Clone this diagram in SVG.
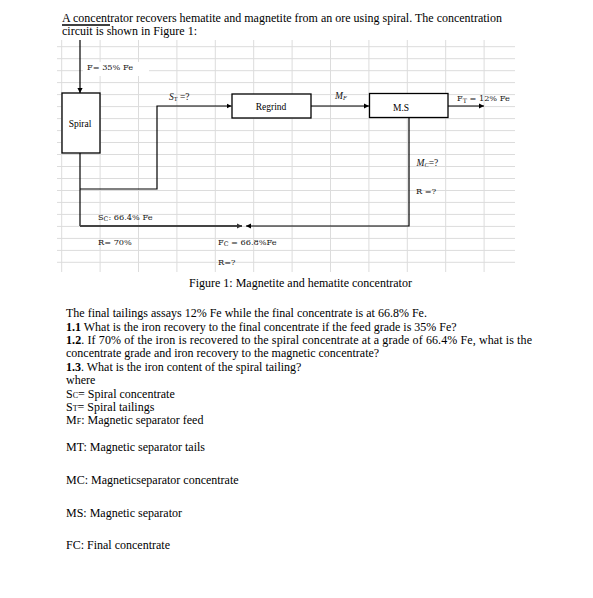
<svg xmlns="http://www.w3.org/2000/svg" width="593" height="598" viewBox="0 0 593 598">
<style>
.body{font-family:"Liberation Serif","Times New Roman",serif;font-size:12px;fill:#000}
.lbl{font-family:"DejaVu Serif","Liberation Serif",serif;font-size:8.2px;fill:#111}
.box{font-family:"Liberation Serif","Times New Roman",serif;font-size:9.5px;fill:#000}
.math{font-family:"Liberation Serif","Times New Roman",serif;font-size:9.5px;fill:#111}
.grid{stroke:#dcdcdc;stroke-width:1;fill:none}
.node{fill:#fff;stroke:#000;stroke-width:1.3}
.conn{fill:none;stroke:#000;stroke-width:1.2}
.sub{font-size:6.3px}
.b{font-weight:bold}
</style>
<defs>
<marker id="arr" markerUnits="userSpaceOnUse" markerWidth="6" markerHeight="6" refX="5" refY="3" orient="auto">
<path d="M0,0.4 L5,3 L0,5.6 z" fill="#000"/>
</marker>
<marker id="arrg" markerUnits="userSpaceOnUse" markerWidth="6" markerHeight="6" refX="5" refY="3" orient="auto">
<path d="M0,0.4 L5,3 L0,5.6 z" fill="#333"/>
</marker>
</defs>
<rect width="593" height="598" fill="#fff"/>

<!-- title -->
<text class="body" x="62" y="21.5">A concentrator recovers hematite and magnetite from an ore using spiral. The concentration</text>
<text class="body" x="62" y="35">circuit is shown in Figure 1:</text>
<line x1="62" y1="25" x2="110" y2="25" stroke="#000" stroke-width="1.6"/>

<!-- grid -->
<g id="grid">
<path class="grid" d="M57,46.7H515M57,58.7H515M57,70.7H515M57,82.6H515M57,94.6H515M57,106.6H515M57,118.6H515M57,130.6H515M57,142.5H515M57,154.5H515M57,166.5H515M57,178.5H515M57,190.5H515M57,202.4H515M57,214.4H515M57,226.4H515M57,238.4H515M57,250.4H515M57,262.3H515"/>
<path class="grid" d="M61.7,40V272M100.1,40V272M138.5,40V272M176.9,40V272M215.3,40V272M253.7,40V272M292.1,40V272M330.5,40V272M368.9,40V272M407.3,40V272M445.7,40V272M484.1,40V272"/>
</g>
<rect x="83" y="62" width="66" height="14" fill="#fff"/>

<!-- connectors -->
<g id="connectors">
<line class="conn" x1="80" y1="40" x2="80" y2="93" marker-end="url(#arr)"/>
<line class="conn" x1="80" y1="153" x2="80" y2="226"/>
<path class="conn" d="M80,189 H157 V106 H231.5" marker-end="url(#arr)"/>
<line class="conn" x1="311" y1="106" x2="369" y2="106" marker-end="url(#arr)"/>
<line class="conn" x1="448" y1="106" x2="484" y2="106" marker-end="url(#arr)"/>
<path class="conn" d="M409,117 V226 H246" marker-end="url(#arr)"/>
<line x1="80" y1="226" x2="242" y2="226" stroke="#444" stroke-width="1.8" marker-end="url(#arrg)"/>
</g>

<!-- nodes -->
<g id="spiral">
<rect class="node" x="62" y="93" width="38" height="60"/>
<text class="box" x="80" y="127" text-anchor="middle">Spiral</text>
</g>
<g id="regrind">
<rect class="node" x="232" y="94" width="79" height="24"/>
<text class="box" x="271" y="110" text-anchor="middle">Regrind</text>
</g>
<g id="ms">
<rect class="node" x="369.5" y="93.5" width="78.5" height="24"/>
<text class="box" x="401" y="110.5" text-anchor="middle">M.S</text>
</g>

<!-- labels -->
<g id="labels">
<text class="lbl" x="87" y="69.5">F= 35% Fe</text>
<text class="math" x="169" y="99.5"><tspan font-style="italic">S</tspan><tspan class="sub" dy="1.5">T</tspan><tspan dy="-1.5"> =?</tspan></text>
<text class="math" x="335" y="98.5"><tspan font-style="italic">M</tspan><tspan class="sub" font-style="italic" dy="1.5">F</tspan></text>
<text class="lbl" x="457" y="101">F<tspan class="sub" dy="1.5">T</tspan><tspan dy="-1.5"> = 12% Fe</tspan></text>
<text class="math" x="416.5" y="165.5" font-size="8.5"><tspan font-style="italic">M</tspan><tspan class="sub" font-style="italic" dy="1.5">C</tspan><tspan dy="-1.5">=?</tspan></text>
<text class="lbl" x="416" y="193.5">R =?</text>
<text class="lbl" x="98" y="219.5">S<tspan class="sub" dy="1.5">C</tspan><tspan dy="-1.5">: 66.4% Fe</tspan></text>
<text class="lbl" x="98" y="244.5">R= 70%</text>
<text class="lbl" x="218" y="244.5">F<tspan class="sub" dy="1.5">C</tspan><tspan dy="-1.5"> = 66.8%Fe</tspan></text>
<text class="lbl" x="218" y="264.5">R=?</text>
</g>

<text class="body" x="189" y="286.5">Figure 1: Magnetite and hematite concentrator</text>

<!-- body text -->
<text class="body" x="66" y="317">The final tailings assays 12% Fe while the final concentrate is at 66.8% Fe.</text>
<text class="body" x="66" y="330.5"><tspan class="b">1.1</tspan> What is the iron recovery to the final concentrate if the feed grade is 35% Fe?</text>
<text class="body" x="66" y="344" textLength="466"><tspan class="b">1.2</tspan>. If 70% of the iron is recovered to the spiral concentrate at a grade of 66.4% Fe, what is the</text>
<text class="body" x="66" y="357">concentrate grade and iron recovery to the magnetic concentrate?</text>
<text class="body" x="66" y="370.5"><tspan class="b">1.3</tspan>. What is the iron content of the spiral tailing?</text>
<text class="body" x="66" y="384">where</text>
<text class="body" x="66" y="397.5">S<tspan font-size="8">C</tspan>= Spiral concentrate</text>
<text class="body" x="66" y="410.5">S<tspan font-size="8">T</tspan>= Spiral tailings</text>
<text class="body" x="66" y="424">M<tspan font-size="8">F</tspan>: Magnetic separator feed</text>
<text class="body" x="66" y="451">MT: Magnetic separator tails</text>
<text class="body" x="66" y="484">MC: Magneticseparator concentrate</text>
<text class="body" x="66" y="517">MS: Magnetic separator</text>
<text class="body" x="66" y="549">FC: Final concentrate</text>
</svg>
